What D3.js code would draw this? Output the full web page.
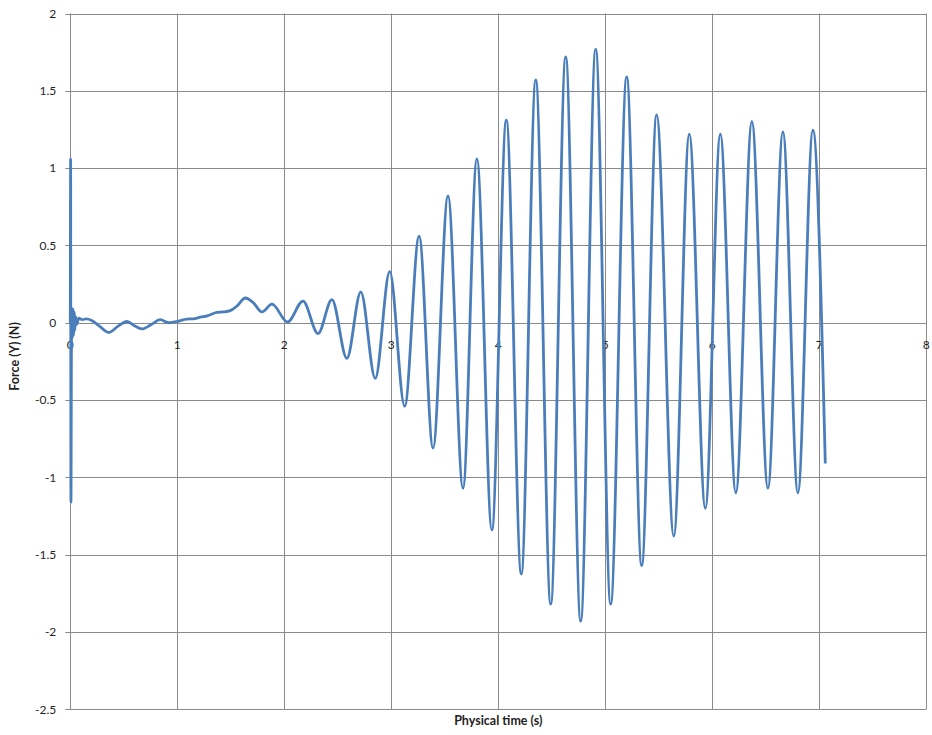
<!DOCTYPE html>
<html>
<head>
<meta charset="utf-8">
<script src="https://cdn.jsdelivr.net/npm/d3@7/dist/d3.min.js"></script>
<style>
  html, body { margin: 0; padding: 0; background: #fff; }
  text { font-family: Lato, "Open Sans", "Liberation Sans", sans-serif; fill: #1f1f1f; }
</style>
</head>
<body>
<svg id="chart" width="932" height="735"></svg>
<script>
// ---- data ----
const timeValues = [0,0.003,0.006,0.012,0.018,0.024,0.03,0.036,0.042,0.05,
  0.06,0.08,0.11,0.15,0.2,0.27,0.36,0.45,0.53,0.6,
  0.67,0.76,0.84,0.92,1.0,1.09,1.15,1.215,1.28,1.37,
  1.43,1.495,1.56,1.635,1.71,1.79,1.885,2.03,2.175,2.315,
  2.445,2.585,2.715,2.85,2.985,3.125,3.26,3.39,3.53,3.67,
  3.80,3.94,4.075,4.215,4.35,4.49,4.63,4.77,4.91,5.05,
  5.20,5.34,5.48,5.64,5.785,5.935,6.075,6.22,6.37,6.52,
  6.66,6.80,6.94,7.056];
const forceValues = [0,1.06,-1.16,0.06,-0.1,0.09,-0.08,0.07,-0.05,0.04,
  -0.01,0.03,0.02,0.025,0.015,-0.02,-0.063,-0.02,0.008,-0.02,
  -0.04,-0.01,0.02,0.0,0.008,0.024,0.025,0.036,0.045,0.067,
  0.07,0.078,0.11,0.16,0.13,0.07,0.12,0.005,0.14,-0.07,
  0.15,-0.23,0.2,-0.36,0.33,-0.54,0.56,-0.81,0.82,-1.07,
  1.06,-1.34,1.31,-1.625,1.57,-1.82,1.72,-1.93,1.77,-1.82,
  1.59,-1.57,1.345,-1.38,1.22,-1.2,1.22,-1.1,1.30,-1.07,
  1.235,-1.1,1.245,-0.91];
const xTicks = [0,1,2,3,4,5,6,7,8];
const yTicks = [2,1.5,1,0.5,0,-0.5,-1,-1.5,-2,-2.5];
const xTitle = "Physical time (s)";
const yTitle = "Force (Y) (N)";

// ---- layout ----
const svg = d3.select("#chart");
const plotLeft = 70.3, plotRight = 926.3, plotTop = 13.5, plotBottom = 709.3;
const x = d3.scaleLinear().domain([0, 8]).range([plotLeft, plotRight]);
const y = d3.scaleLinear().domain([-2.5, 2]).range([plotBottom, plotTop]);
const gridColor = "#8a8a8a";

// gridlines
svg.append("g").selectAll("line").data(yTicks).join("line")
  .attr("x1", plotLeft - 5).attr("x2", plotRight)
  .attr("y1", d => Math.round(y(d)) + 0.5).attr("y2", d => Math.round(y(d)) + 0.5)
  .attr("stroke", gridColor).attr("stroke-width", 1);
svg.append("g").selectAll("line").data(xTicks).join("line")
  .attr("x1", d => Math.round(x(d)) + 0.5).attr("x2", d => Math.round(x(d)) + 0.5)
  .attr("y1", plotTop).attr("y2", plotBottom)
  .attr("stroke", gridColor).attr("stroke-width", 1);

// y tick labels
svg.append("g").selectAll("text").data(yTicks).join("text")
  .attr("x", plotLeft - 14).attr("y", d => y(d)).attr("dy", "0.35em")
  .attr("text-anchor", "end").attr("font-size", 12)
  .text(d => d);

// x tick labels (next to the axis at y = 0)
svg.append("g").selectAll("text").data(xTicks).join("text")
  .attr("x", d => x(d)).attr("y", y(0) + 26)
  .attr("text-anchor", "middle").attr("font-size", 12)
  .text(d => d);

// axis titles
svg.append("text").attr("x", (plotLeft + plotRight) / 2).attr("y", 725)
  .attr("text-anchor", "middle").attr("font-size", 12.5).attr("font-weight", "bold")
  .text(xTitle);
svg.append("text")
  .attr("transform", `translate(19, ${(plotTop + plotBottom) / 2 - 5}) rotate(-90)`)
  .attr("text-anchor", "middle").attr("font-size", 12.5).attr("font-weight", "bold")
  .text(yTitle);

// series
const pts = timeValues.map((t, i) => [t, forceValues[i]]);
const line = d3.line().x(d => x(d[0])).y(d => y(d[1])).curve(d3.curveMonotoneX);
svg.append("path").datum(pts)
  .attr("d", line)
  .attr("fill", "none").attr("stroke", "#4A7EBB").attr("stroke-width", 2.8)
  .attr("stroke-linejoin", "round");
</script>
</body>
</html>
